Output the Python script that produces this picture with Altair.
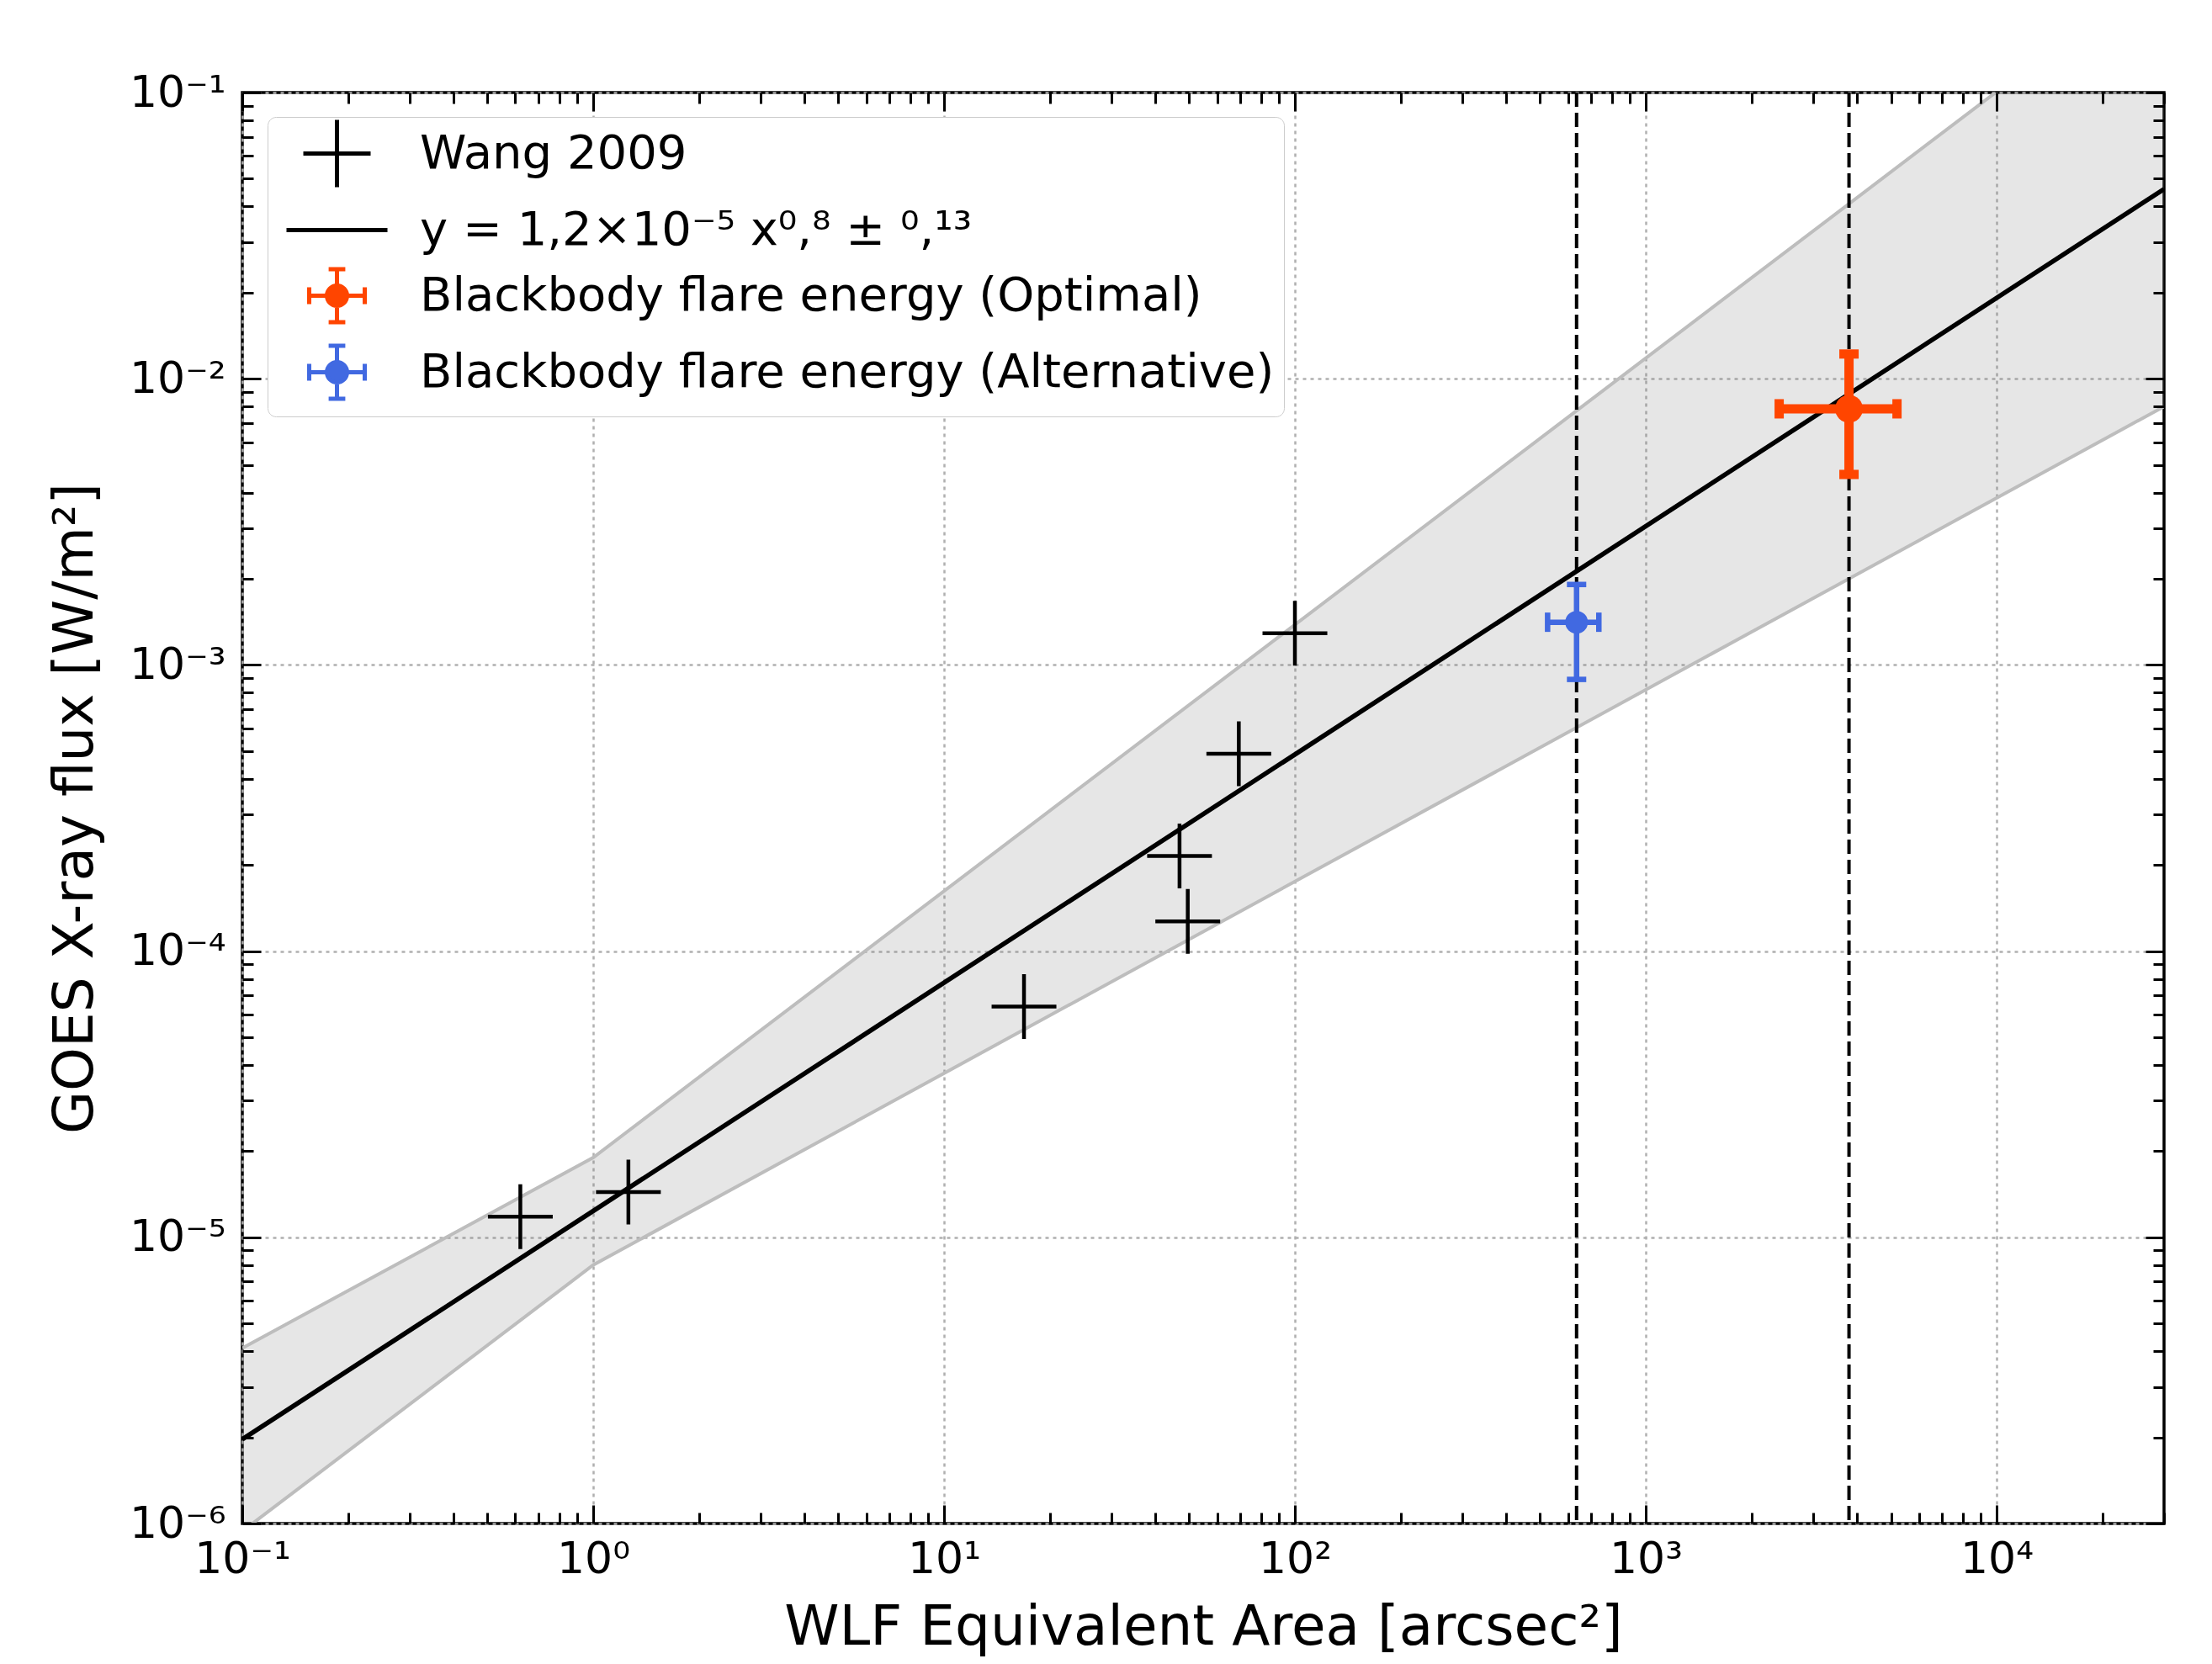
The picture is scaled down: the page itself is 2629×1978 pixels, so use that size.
import altair as alt
import pandas as pd

W, H = 2284, 1701

# ---------------- data ----------------
wang_x = [0.62, 1.26, 16.9, 46.9, 49.5, 69.2, 100.0]
wang_y = [1.18e-5, 1.44e-5, 6.4e-5, 2.15e-4, 1.27e-4, 4.89e-4, 1.29e-3]

fit_x = [0.1, 30000.0]
fit_y = [1.97e-6, 4.6e-2]

band_x = [0.1, 1.0, 30000.0]
band_upper = [4.1e-6, 1.9e-5, 2.8e-1]
band_lower = [9.4e-7, 8.0e-6, 8.0e-3]

bb_names = ["Optimal", "Alternative"]
bb_colors = ["#ff4500", "#4169e1"]
bb_x = [3795.0, 635.0]
bb_y = [7.85e-3, 1.41e-3]
bb_xlo = [2400.0, 525.0]
bb_xhi = [5200.0, 735.0]
bb_ylo = [4.63e-3, 8.9e-4]
bb_yhi = [1.22e-2, 1.91e-3]

vline_x = [635.0, 3795.0]

legend_labels = [
    "Wang 2009",
    "y = 1,2×10⁻⁵ x⁰,⁸ ± ⁰,¹³",
    "Blackbody flare energy (Optimal)",
    "Blackbody flare energy (Alternative)",
]

x_major = [0.1, 1.0, 10.0, 100.0, 1000.0, 10000.0]
x_tick_labels = ["10⁻¹", "10⁰", "10¹", "10²", "10³", "10⁴"]
y_major = [1e-6, 1e-5, 1e-4, 1e-3, 1e-2, 1e-1]
y_tick_labels = ["10⁻⁶", "10⁻⁵", "10⁻⁴", "10⁻³", "10⁻²", "10⁻¹"]
x_minor = [m * d for d in x_major for m in range(2, 10) if m * d <= 30000]
y_minor = [m * d for d in y_major[:-1] for m in range(2, 10)]

# ---------------- tables ----------------
band_df = pd.DataFrame({"x": band_x, "upper": band_upper, "lower": band_lower})
fit_df = pd.DataFrame({"x": fit_x, "y": fit_y})
wang_df = pd.DataFrame({"x": wang_x, "y": wang_y})
bb_df = pd.DataFrame({"name": bb_names, "x": bb_x, "y": bb_y, "xlo": bb_xlo,
                      "xhi": bb_xhi, "ylo": bb_ylo, "yhi": bb_yhi})
vline_df = pd.DataFrame({"x": vline_x})
legend_df = pd.DataFrame({"label": legend_labels, "x": [1e-3] * 4, "y": [1e-4] * 4})

xs = alt.Scale(type="log", domain=[0.1, 30000], nice=False)
ys = alt.Scale(type="log", domain=[1e-6, 0.1], nice=False)

FONT = "DejaVu Sans"


def expr(labels, shift):
    arr = "[" + ",".join("'" + s + "'" for s in labels) + "]"
    return arr + "[round(log(datum.value)/LN10)+" + str(shift) + "]"


ax_x_main = alt.Axis(orient="bottom", values=x_major, labelExpr=expr(x_tick_labels, 1),
                     labelFont=FONT, labelFontSize=52, labelColor="black", labelPadding=17,
                     labelFlush=False, labelOverlap=False, labelBaseline="top",
                     ticks=False, tickSize=0, domain=False,
                     grid=True, gridColor="#b0b0b0", gridDash=[4, 5], gridWidth=2.5,
                     titleFont=FONT, titleFontSize=66, titleFontWeight="normal",
                     titleColor="black", titleX=W / 2, titleY=143,
                     titleBaseline="alphabetic", titleAlign="center", zindex=0)
ax_y_main = alt.Axis(orient="left", values=y_major, labelExpr=expr(y_tick_labels, 6),
                     labelFont=FONT, labelFontSize=52, labelColor="black", labelPadding=20,
                     labelFlush=False, labelOverlap=False, labelBaseline="middle",
                     labelAlign="right",
                     ticks=False, tickSize=0, domain=False,
                     grid=True, gridColor="#b0b0b0", gridDash=[4, 5], gridWidth=2.5,
                     titleFont=FONT, titleFontSize=66, titleFontWeight="normal",
                     titleColor="black", titleX=-199, titleY=H / 2, titleAngle=270,
                     titleBaseline="middle", titleAlign="center", zindex=0)


def tick_axis(orient, values, size, offset):
    return alt.Axis(orient=orient, values=values, offset=offset, labels=False,
                    domain=False, grid=False, ticks=True, tickSize=size, tickWidth=3,
                    tickColor="black", zindex=2)


ax_xb = tick_axis("top", x_major, 22, -H)
ax_xc = tick_axis("top", x_minor, 13, -H)
ax_xd = tick_axis("bottom", x_major, 22, -H)
ax_xe = tick_axis("bottom", x_minor, 13, -H)
ax_yb = tick_axis("right", y_major, 22, -W)
ax_yc = tick_axis("right", y_minor, 13, -W)
ax_yd = tick_axis("left", y_major, 22, -W)
ax_ye = tick_axis("left", y_minor, 13, -W)

# ---------------- layers ----------------
area = alt.Chart(band_df).mark_area(color="gray", opacity=0.2, clip=True).encode(
    x=alt.X("x:Q", scale=xs, axis=ax_x_main, title="WLF Equivalent Area [arcsec²]"),
    y=alt.Y("upper:Q", scale=ys, axis=ax_y_main, title="GOES X-ray flux [W/m²]"),
    y2="lower:Q",
)
upper = alt.Chart(band_df).mark_line(color="#bdbdbd", strokeWidth=4, clip=True).encode(
    x=alt.X("x:Q", scale=xs, axis=ax_xb, title=""),
    y=alt.Y("upper:Q", scale=ys, axis=ax_yb, title=""),
)
lower = alt.Chart(band_df).mark_line(color="#bdbdbd", strokeWidth=4, clip=True).encode(
    x=alt.X("x:Q", scale=xs, axis=ax_xc, title=""),
    y=alt.Y("lower:Q", scale=ys, axis=ax_yc, title=""),
)
vlines = alt.Chart(vline_df).mark_rule(color="black", strokeWidth=4, strokeDash=[17, 7]).encode(
    x=alt.X("x:Q", scale=xs, axis=None),
)
fit = alt.Chart(fit_df).mark_line(color="black", strokeWidth=5.5, clip=True).encode(
    x=alt.X("x:Q", scale=xs, axis=ax_xd, title=""),
    y=alt.Y("y:Q", scale=ys, axis=ax_yd, title=""),
)
wang = alt.Chart(wang_df).mark_point(shape="M-1,0L1,0M0,-1L0,1", size=5929, filled=False,
                                     strokeWidth=4.5, color="black", opacity=1, clip=True).encode(
    x=alt.X("x:Q", scale=xs, axis=ax_xe, title=""),
    y=alt.Y("y:Q", scale=ys, axis=ax_ye, title=""),
)


def errbar(name, color, lw, dot):
    base = alt.Chart(bb_df).transform_filter(alt.datum.name == name)
    xr = base.mark_rule(color=color, strokeWidth=lw).encode(
        x=alt.X("xlo:Q", scale=xs, axis=None), x2="xhi:Q",
        y=alt.Y("y:Q", scale=ys, axis=None))
    yr = base.mark_rule(color=color, strokeWidth=lw).encode(
        x=alt.X("x:Q", scale=xs, axis=None),
        y=alt.Y("ylo:Q", scale=ys, axis=None), y2="yhi:Q")
    xcap = base.transform_fold(["xlo", "xhi"], as_=["k", "xc"]).mark_point(
        shape="M0,-1L0,1", size=529, filled=False, strokeWidth=lw, color=color, opacity=1
    ).encode(x=alt.X("xc:Q", scale=xs, axis=None), y=alt.Y("y:Q", scale=ys, axis=None))
    ycap = base.transform_fold(["ylo", "yhi"], as_=["k", "yc"]).mark_point(
        shape="M-1,0L1,0", size=529, filled=False, strokeWidth=lw, color=color, opacity=1
    ).encode(x=alt.X("x:Q", scale=xs, axis=None), y=alt.Y("yc:Q", scale=ys, axis=None))
    pt = base.mark_point(shape="circle", filled=True, size=dot, color=color, opacity=1).encode(
        x=alt.X("x:Q", scale=xs, axis=None), y=alt.Y("y:Q", scale=ys, axis=None))
    return [xr, yr, xcap, ycap, pt]


eb_path = ("M-1.1,0L1.1,0M0,-1.05L0,1.05M-1.1,-0.33L-1.1,0.33M1.1,-0.33L1.1,0.33"
           "M-0.33,-1.05L0.33,-1.05M-0.33,1.05L0.33,1.05"
           "M0.4,0A0.4,0.4,0,1,1,-0.4,0A0.4,0.4,0,1,1,0.4,0Z")
legend_paths = [
    "M-1.333,0L1.333,0M0,-1.333L0,1.333",
    "M-2,0L2,0",
    eb_path,
    eb_path,
]
legend_stroke = ["black", "black", bb_colors[0], bb_colors[1]]
legend_fill = ["transparent", "transparent", bb_colors[0], bb_colors[1]]

leg = alt.Legend(title=None, orient="none", legendX=30, legendY=29, symbolSize=3600,
                 symbolStrokeWidth=5, labelFont=FONT, labelFontSize=56, labelColor="black",
                 labelLimit=0, padding=11, rowPadding=8, symbolOffset=39, labelOffset=66,
                 fillColor="white", strokeColor="#cccccc", cornerRadius=10,
                 direction="vertical")

legend_layer = alt.Chart(legend_df).mark_point(size=3600, strokeWidth=5, opacity=1, clip=True).encode(
    x=alt.X("x:Q", scale=xs, axis=None),
    y=alt.Y("y:Q", scale=ys, axis=None),
    shape=alt.Shape("label:N", scale=alt.Scale(domain=legend_labels, range=legend_paths), legend=leg),
    stroke=alt.Stroke("label:N", scale=alt.Scale(domain=legend_labels, range=legend_stroke), legend=leg),
    fill=alt.Fill("label:N", scale=alt.Scale(domain=legend_labels, range=legend_fill), legend=leg),
)

layers = [area, upper, lower, vlines, fit, wang]
layers += errbar("Alternative", bb_colors[1], 6.5, 729)
layers += errbar("Optimal", bb_colors[0], 11, 1089)
layers.append(legend_layer)

chart = alt.layer(*layers).resolve_axis(x="independent", y="independent").properties(
    width=W, height=H,
    padding={"left": 280, "top": 102, "right": 40, "bottom": 158},
    autosize=alt.AutoSizeParams(type="none"),
    background="white",
).configure_view(stroke="black", strokeWidth=3.5)

chart.save("out.html", embed_options={"renderer": "svg", "actions": False})
